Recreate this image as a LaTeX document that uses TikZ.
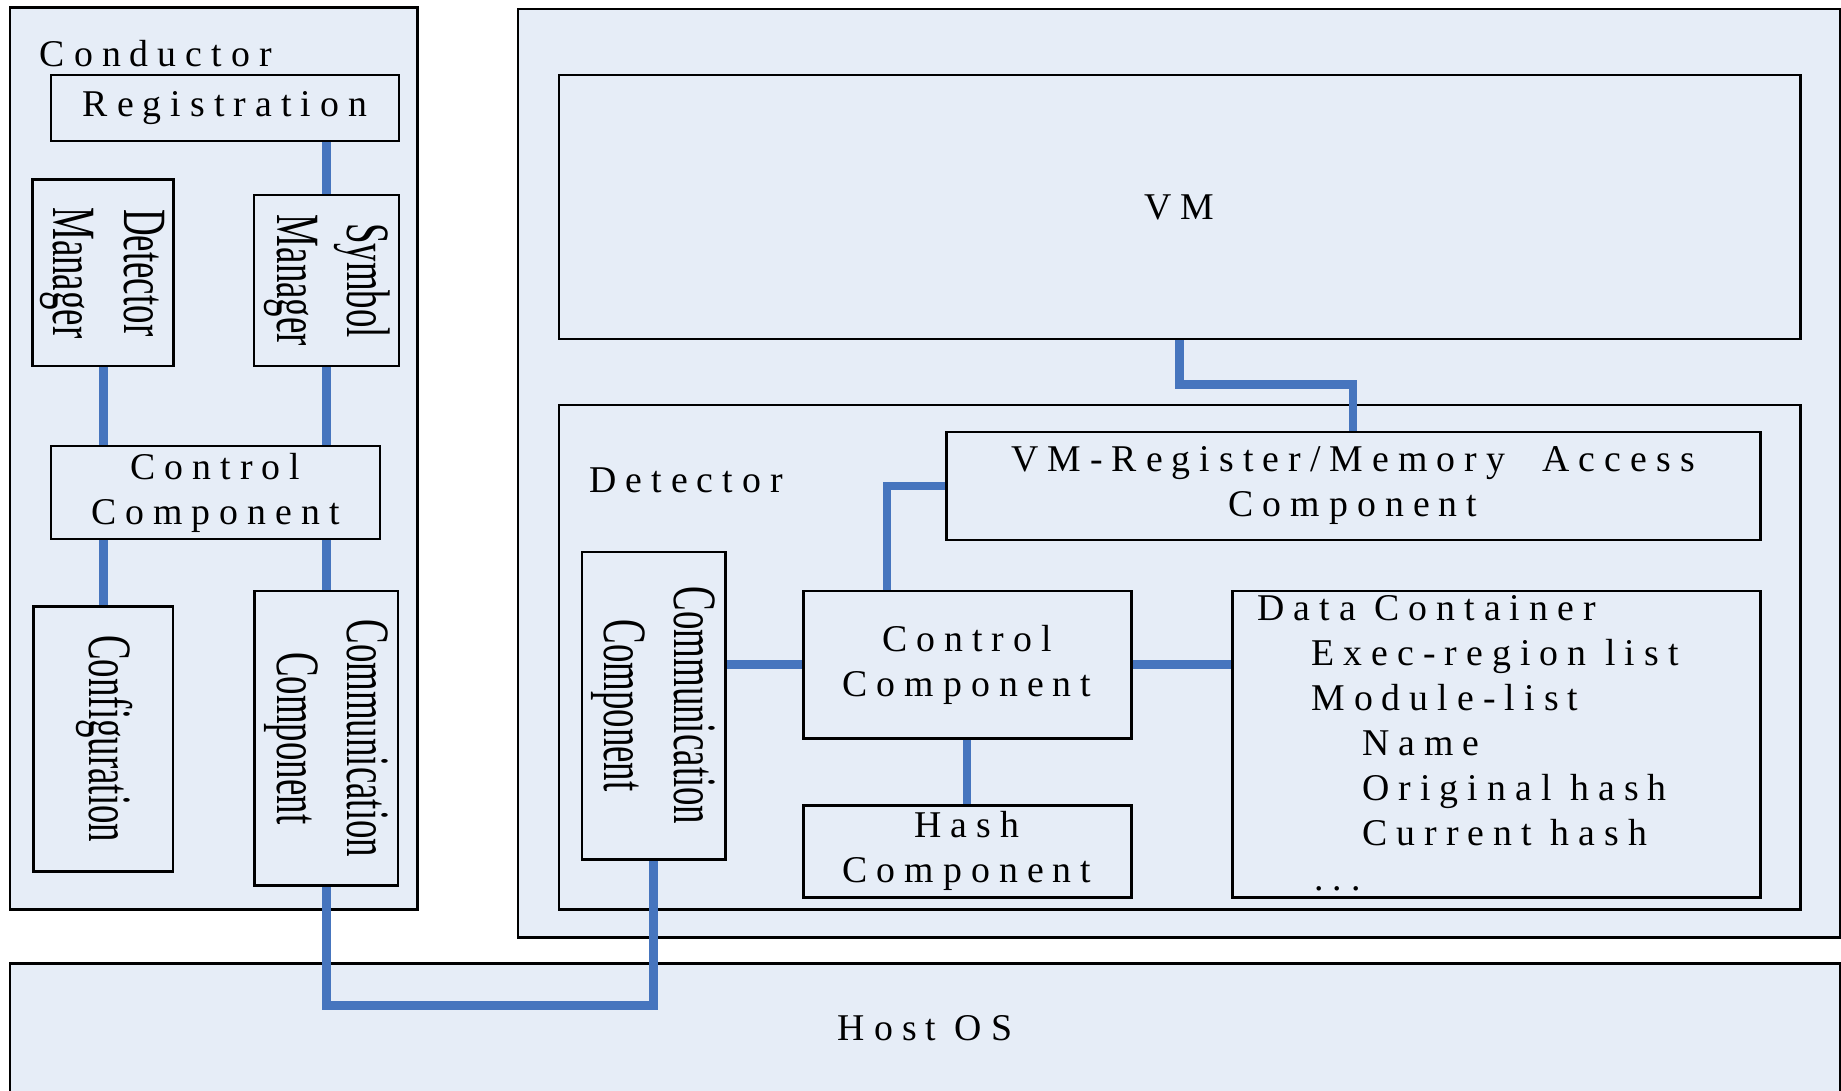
\documentclass[tikz,border=0pt]{standalone}
\usepackage{fontspec}
\usepackage{graphicx}
\setmainfont{Liberation Serif}[LetterSpace=24]
\newfontfamily\narrowfont{Liberation Serif}[FakeStretch=0.6]
\usetikzlibrary{positioning}
\usetikzlibrary{calc}

\definecolor{panel}{RGB}{230,237,247}
\definecolor{wire}{RGB}{70,117,190}

\begin{document}
\begin{tikzpicture}
        % Define styles for shapes
        \tikzstyle{rect} = [draw, line width=1.7pt, fill=panel, inner sep=0pt, font=\fontsize{21.5}{25.6}\selectfont, align=center]
        \tikzstyle{vrect} = [rect, font=\narrowfont\fontsize{35}{40}\selectfont]
        \tikzstyle{label} = [inner sep=0pt, font=\fontsize{21.5}{25.6}\selectfont]
        \tikzstyle{wire} = [draw=wire, line width=5pt]

        \useasboundingbox (0,0) rectangle (36.82,-21.82);
        \clip (0,0) rectangle (36.82,-21.82);

        % Draw shapes
        % conductor side
        \node[rect, minimum width=8.154cm, minimum height=18.036cm] (conductor) at (4.277, -9.176) {};
        \node[label, anchor=base west] (condlabel) at (0.79, -1.32) {Conductor};
        \node[rect, minimum width=6.96cm, minimum height=1.32cm] (reg) at (4.5, -2.16) {Registration};
        \node[vrect, minimum width=2.82cm, minimum height=3.728cm] (detmgr) at (2.064, -5.456) {
            \rotatebox{-90}{\begin{tabular}{@{}c@{}}Detector\\Manager\end{tabular}}};
        \node[vrect, minimum width=2.9cm, minimum height=3.42cm] (symmgr) at (6.53, -5.61) {
            \rotatebox{-90}{\begin{tabular}{@{}c@{}}Symbol\\Manager\end{tabular}}};
        \node[rect, minimum width=6.58cm, minimum height=1.86cm] (cctrl) at (4.31, -9.85) {Control\\Component};
        \node[vrect, minimum width=2.79cm, minimum height=5.286cm] (config) at (2.065, -14.777) {
            \rotatebox{-90}{\begin{tabular}{@{}c@{}}Configuration\end{tabular}}};
        \node[vrect, minimum width=2.87cm, minimum height=5.892cm] (ccomm) at (6.525, -14.766) {
            \rotatebox{-90}{\begin{tabular}{@{}c@{}}Communication\\Component\end{tabular}}};

        % guest side
        \node[rect, minimum width=26.44cm, minimum height=18.56cm] (guest) at (23.58, -9.46) {};
        \node[rect, minimum width=24.82cm, minimum height=5.28cm] (vm) at (23.59, -4.14) {VM};
        \node[rect, minimum width=24.82cm, minimum height=10.09cm] (detector) at (23.59, -13.145) {};
        \node[label, anchor=base west] (detlabel) at (11.78, -9.84) {Detector};
        \node[rect, minimum width=16.28cm, minimum height=2.16cm] (vmreg) at (27.06, -9.72) {VM-Register/Memory\ \ Access\\Component};
        \node[vrect, minimum width=2.86cm, minimum height=6.14cm] (dcomm) at (13.07, -14.11) {
            \rotatebox{-90}{\begin{tabular}{@{}c@{}}Communication\\Component\end{tabular}}};
        \node[rect, minimum width=6.56cm, minimum height=2.95cm] (dctrl) at (19.34, -13.295) {Control\\Component};
        \node[rect, minimum width=6.56cm, minimum height=1.852cm] (hash) at (19.34, -17.026) {Hash\\Component};
        \node[rect, minimum width=10.56cm, minimum height=6.132cm] (data) at (29.92, -14.886) {};
        \node[label, anchor=north west, align=left] (datalist) at (25.14, -11.9) {
            Data Container\\
            \hspace*{1.08cm}Exec-region list\\
            \hspace*{1.08cm}Module-list\\
            \hspace*{2.1cm}Name\\
            \hspace*{2.1cm}Original hash\\
            \hspace*{2.1cm}Current hash\\
            \hspace*{1.14cm}...};

        % host
        \node[rect, minimum width=36.6cm, minimum height=2.588cm] (host) at (18.5, -20.566) {Host OS};

        % Draw connections
        \draw[wire] (symmgr.north) -- (symmgr.north |- reg.south);
        \draw[wire] (detmgr.south) -- (detmgr.south |- cctrl.north);
        \draw[wire] (symmgr.south) -- (symmgr.south |- cctrl.north);
        \draw[wire] (config.north) -- (config.north |- cctrl.south);
        \draw[wire] (ccomm.north) -- (ccomm.north |- cctrl.south);
        \draw[wire] (ccomm.south) -- ++(0,-2.37) -| (dcomm.south);
        \draw[wire] (vm.south) -- ++(0,-0.88) -| (vmreg.north);
        \draw[wire] (vmreg.west) -| ([xshift=-1.6cm]dctrl.north);
        \draw[wire] (dctrl.west) -- (dctrl.west -| dcomm.east);
        \draw[wire] (dctrl.east) -- (dctrl.east -| data.west);
        \draw[wire] (dctrl.south) -- (hash.north);
\end{tikzpicture}
\end{document}
